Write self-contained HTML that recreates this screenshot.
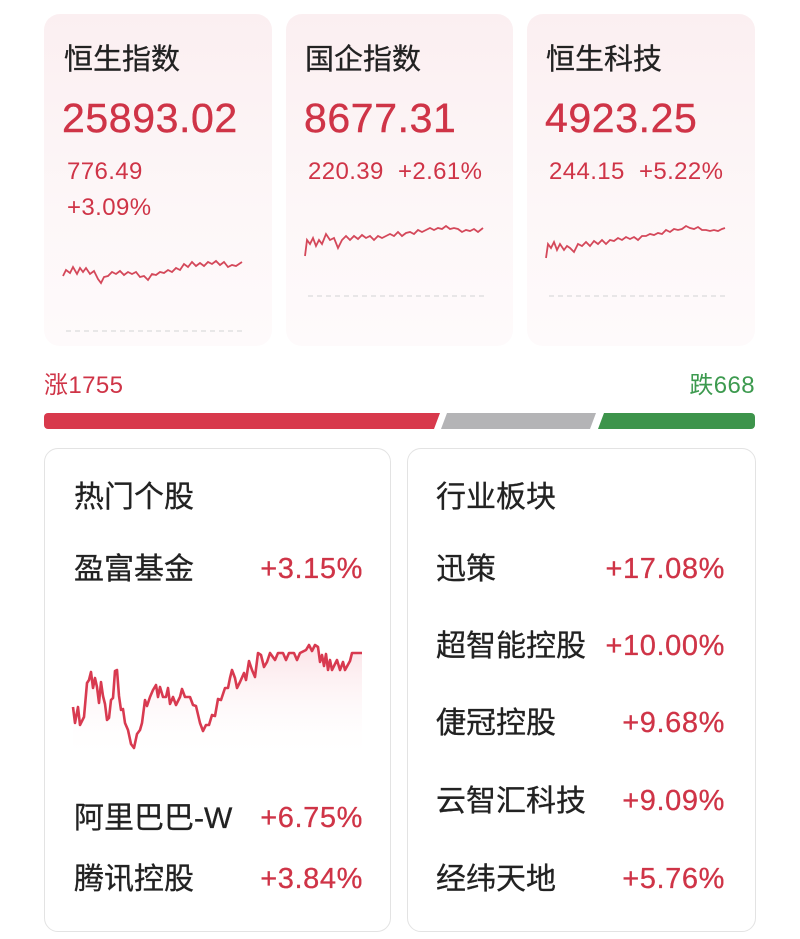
<!DOCTYPE html>
<html><head><meta charset="utf-8"><style>
body{margin:0;width:800px;height:939px;background:#fff;font-family:"Liberation Sans","Noto Sans CJK SC",sans-serif;position:relative;overflow:hidden}
.a{position:absolute;white-space:nowrap}
.card{position:absolute;top:14px;height:332px;border-radius:16px;background:linear-gradient(#fbeff1,#fdf7f8 60%,#fefafb)}
.t{font-size:29px;color:#222;line-height:34px;-webkit-text-stroke:0.3px #222}
.big{font-size:41px;color:#cf3447;letter-spacing:0.6px;line-height:44px;-webkit-text-stroke:0.4px #cf3447}
.s{font-size:24px;color:#cf3447;letter-spacing:0.4px;line-height:28px}
.box{position:absolute;top:448px;height:482px;border:1.5px solid #e3e3e3;border-radius:14px;background:#fff}
.n{font-size:30px;color:#222;line-height:34px;-webkit-text-stroke:0.3px #222}
.p{font-size:29px;color:#cf3447;letter-spacing:0.6px;line-height:34px;text-align:right;-webkit-text-stroke:0.3px #cf3447}
</style></head><body>
<div class="card" style="left:44px;width:228px"></div>
<div class="card" style="left:286px;width:227px"></div>
<div class="card" style="left:527px;width:228px"></div>
<div class="a t" style="left:64px;top:43px">恒生指数</div>
<div class="a big" style="left:62px;top:96px">25893.02</div>
<div class="a s" style="left:67px;top:158px">776.49</div>
<div class="a s" style="left:67px;top:194px">+3.09%</div>
<div class="a t" style="left:305px;top:43px">国企指数</div>
<div class="a big" style="left:304px;top:96px">8677.31</div>
<div class="a s" style="left:308px;top:158px">220.39 &nbsp;+2.61%</div>
<div class="a t" style="left:546px;top:43px">恒生科技</div>
<div class="a big" style="left:545px;top:96px">4923.25</div>
<div class="a s" style="left:549px;top:158px">244.15 &nbsp;+5.22%</div>
<svg class="a" style="left:0;top:0" width="800" height="360">
<g fill="none" stroke="#d4485a" stroke-width="1.8">
<polyline points="63,276 66,270 70,273 73,267 77,274 80,268 83,272 86,268 90,274 94,271 98,279 101,283 104,277 108,276 112,272 116,274 120,271 124,275 128,272 132,274 136,272 140,277 144,276 148,280 152,274 156,275 160,272 164,273 168,270 172,272 176,268 180,270 184,264 188,267 192,262 196,266 200,263 204,266 208,262 212,264 216,261 220,265 224,262 228,267 232,265 236,266 242,262"/>
<polyline points="305,256 307,240 310,244 313,238 316,246 319,240 322,244 326,234 330,240 334,238 338,248 342,240 346,236 350,240 354,236 358,239 362,235 366,238 370,236 374,240 378,236 382,238 386,236 390,234 394,236 398,232 402,236 406,233 410,232 414,234 418,230 422,232 426,230 430,228 434,230 438,228 442,229 446,226 450,229 454,228 458,229 462,232 466,230 470,231 474,229 478,232 483,228"/>
<polyline points="546,258 548,244 551,248 554,242 557,250 560,244 564,250 567,246 570,248 574,252 578,244 582,246 586,242 590,246 594,241 598,244 602,240 606,244 610,240 614,241 618,238 622,240 626,237 630,239 634,237 638,240 642,236 646,236 650,234 654,235 658,233 662,234 666,230 670,232 674,229 678,230 682,229 686,226 690,228 694,229 698,227 702,230 706,230 710,231 714,230 718,231 722,229 725,228"/>
</g>
<g stroke="#dcdcdc" stroke-width="1.2" stroke-dasharray="5,4">
<line x1="66" y1="331" x2="242" y2="331"/><line x1="308" y1="296" x2="484" y2="296"/><line x1="549" y1="296" x2="725" y2="296"/>
</g></svg>
<div class="a" style="left:44px;top:372px;font-size:24px;letter-spacing:0.4px;color:#cf3447;line-height:28px">涨1755</div>
<div class="a" style="right:45px;top:372px;font-size:24px;letter-spacing:0.4px;color:#3d9a4f;line-height:28px">跌668</div>
<svg class="a" style="left:0;top:410px" width="800" height="22">
<path d="M48,3H440L434,19H48A4,4 0 0 1 44,15V7A4,4 0 0 1 48,3Z" fill="#d8394c"/>
<path d="M447,3H596L590,19H441Z" fill="#b4b4b6"/>
<path d="M604,3H751A4,4 0 0 1 755,7V15A4,4 0 0 1 751,19H598Z" fill="#3d944b"/>
</svg>
<div class="box" style="left:44px;width:345px"></div>
<div class="box" style="left:407px;width:347px"></div>
<div class="a n" style="left:74px;top:481px">热门个股</div>
<div class="a n" style="left:74px;top:553px">盈富基金</div>
<div class="a p" style="right:437px;top:552px">+3.15%</div>
<div class="a n" style="left:74px;top:802px">阿里巴巴-W</div>
<div class="a p" style="right:437px;top:801px">+6.75%</div>
<div class="a n" style="left:74px;top:863px">腾讯控股</div>
<div class="a p" style="right:437px;top:862px">+3.84%</div>
<svg class="a" style="left:0;top:0" width="800" height="939">
<defs><linearGradient id="g" x1="0" y1="0" x2="0" y2="1"><stop offset="0" stop-color="#fbe3e7"/><stop offset="1" stop-color="#fff" stop-opacity="0"/></linearGradient></defs>
<path d="M73,707 L75,723 L78,707 L80,725 L84,717 L87,683 L89,680 L91,672 L93,688 L95,678 L97,687 L99,703 L101,682 L103,696 L105,704 L107,720 L109,718 L111,700 L113,698 L115,671 L117,670 L119,696 L121,710 L123,709 L125,723 L128,730 L131,744 L134,748 L137,734 L140,730 L142,723 L145,700 L147,706 L150,697 L153,690 L156,685 L158,697 L160,687 L163,697 L166,697 L168,688 L170,704 L173,697 L176,705 L180,697 L182,689 L185,697 L190,697 L193,705 L196,706 L200,723 L203,731 L206,725 L209,725 L212,715 L215,716 L218,699 L221,700 L225,688 L228,688 L230,678 L232,670 L235,678 L237,688 L240,682 L244,673 L246,680 L249,661 L252,670 L255,677 L258,653 L261,655 L264,667 L267,662 L270,653 L275,660 L278,653 L283,653 L286,660 L289,653 L294,653 L297,660 L300,653 L306,650 L309,645 L312,651 L315,645 L318,647 L320,662 L322,655 L324,666 L326,654 L328,670 L330,660 L332,670 L337,660 L340,670 L343,662 L345,670 L350,661 L352,653 L362,653 L362,760 L73,760 Z" fill="url(#g)"/>
<polyline fill="none" stroke="#d83a50" stroke-width="2.6" stroke-linejoin="round" points="73,707 75,723 78,707 80,725 84,717 87,683 89,680 91,672 93,688 95,678 97,687 99,703 101,682 103,696 105,704 107,720 109,718 111,700 113,698 115,671 117,670 119,696 121,710 123,709 125,723 128,730 131,744 134,748 137,734 140,730 142,723 145,700 147,706 150,697 153,690 156,685 158,697 160,687 163,697 166,697 168,688 170,704 173,697 176,705 180,697 182,689 185,697 190,697 193,705 196,706 200,723 203,731 206,725 209,725 212,715 215,716 218,699 221,700 225,688 228,688 230,678 232,670 235,678 237,688 240,682 244,673 246,680 249,661 252,670 255,677 258,653 261,655 264,667 267,662 270,653 275,660 278,653 283,653 286,660 289,653 294,653 297,660 300,653 306,650 309,645 312,651 315,645 318,647 320,662 322,655 324,666 326,654 328,670 330,660 332,670 337,660 340,670 343,662 345,670 350,661 352,653 362,653"/>
</svg>
<div class="a n" style="left:436px;top:481px">行业板块</div>
<div class="a n" style="left:436px;top:553px">迅策</div>
<div class="a p" style="right:75px;top:552px">+17.08%</div>
<div class="a n" style="left:436px;top:630px">超智能控股</div>
<div class="a p" style="right:75px;top:629px">+10.00%</div>
<div class="a n" style="left:436px;top:707px">倢冠控股</div>
<div class="a p" style="right:75px;top:706px">+9.68%</div>
<div class="a n" style="left:436px;top:785px">云智汇科技</div>
<div class="a p" style="right:75px;top:784px">+9.09%</div>
<div class="a n" style="left:436px;top:863px">经纬天地</div>
<div class="a p" style="right:75px;top:862px">+5.76%</div>
</body></html>
